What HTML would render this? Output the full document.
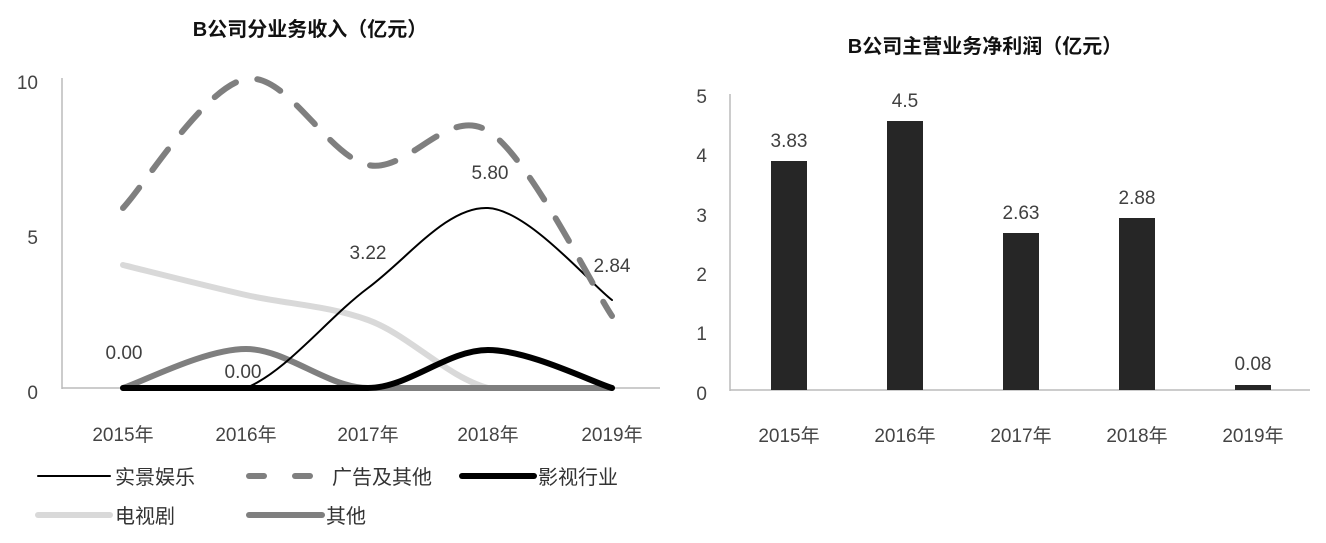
<!DOCTYPE html>
<html><head><meta charset="utf-8"><style>
body{margin:0;background:#fff;}
svg text{font-family:"Liberation Sans","Noto Sans CJK SC",sans-serif;}
</style></head><body>
<svg width="1326" height="538" viewBox="0 0 1326 538" xmlns="http://www.w3.org/2000/svg">
<rect width="1326" height="538" fill="#fff"/>
<!-- Left chart -->
<text x="310" y="36" font-size="20" font-weight="bold" text-anchor="middle" fill="#111">B公司分业务收入（亿元）</text>
<line x1="62" y1="78" x2="62" y2="389" stroke="#bbb" stroke-width="1.5"/>
<line x1="62" y1="388" x2="660" y2="388" stroke="#bbb" stroke-width="1.5"/>
<g font-size="19" fill="#444" text-anchor="end">
<text x="38" y="89">10</text><text x="38" y="244">5</text><text x="38" y="399">0</text>
</g>
<g font-size="19" fill="#444" text-anchor="middle">
<text x="123" y="441">2015年</text><text x="246" y="441">2016年</text><text x="368" y="441">2017年</text><text x="488" y="441">2018年</text><text x="612" y="441">2019年</text>
</g>
<g fill="none" stroke-linecap="round">
<path d="M123,265 C143.5,270 205.2,285.8 246,295 C286.8,304.2 327.7,305.5 368,320 C408.3,334.5 447.3,377.3 488,388 L612,388" stroke="#d9d9d9" stroke-width="6"/>
<path d="M123,388 C143.5,381.5 205.2,349 246,349 C286.8,349 327.7,388 368,388 L612,388" stroke="#7f7f7f" stroke-width="6"/>
<path d="M123,388 L368,388 C408.3,388 447.3,350 488,350 C528.7,350 591.3,381.7 612,388" stroke="#000" stroke-width="6"/>
<path d="M123,388 L246,388 C286.8,371.3 327.7,318 368,288 C408.3,258 447.3,206 488,208 C528.7,210 591.3,284.7 612,300" stroke="#000" stroke-width="2"/>
<path d="M123,208 C143.5,186.5 205.2,86.2 246,79 C286.8,71.8 327.7,156.3 368,165 C408.3,173.7 447.3,105.8 488,131 C528.7,156.2 591.3,285.2 612,316" stroke="#7f7f7f" stroke-width="6" stroke-dasharray="26,22"/>
</g>
<g font-size="19" fill="#404040" text-anchor="middle">
<text x="124" y="359">0.00</text><text x="243" y="378">0.00</text><text x="368" y="259">3.22</text><text x="490" y="179">5.80</text><text x="612" y="272">2.84</text>
</g>
<!-- legend -->
<g stroke-linecap="round">
<line x1="38" y1="476" x2="110" y2="476" stroke="#000" stroke-width="2"/>
<line x1="249" y1="476" x2="264" y2="476" stroke="#7f7f7f" stroke-width="6"/>
<line x1="295" y1="476" x2="310" y2="476" stroke="#7f7f7f" stroke-width="6"/>
<line x1="462" y1="476" x2="534" y2="476" stroke="#000" stroke-width="6"/>
<line x1="38" y1="515" x2="110" y2="515" stroke="#d9d9d9" stroke-width="6"/>
<line x1="249" y1="515" x2="322" y2="515" stroke="#7f7f7f" stroke-width="6"/>
</g>
<g font-size="20" fill="#333">
<text x="115" y="484">实景娱乐</text><text x="332" y="484">广告及其他</text><text x="538" y="484">影视行业</text>
<text x="115" y="523">电视剧</text><text x="326" y="523">其他</text>
</g>
<!-- Right chart -->
<text x="985" y="53" font-size="20" font-weight="bold" text-anchor="middle" fill="#111">B公司主营业务净利润（亿元）</text>
<line x1="730" y1="94" x2="730" y2="391" stroke="#bbb" stroke-width="1.5"/>
<line x1="730" y1="390" x2="1310" y2="390" stroke="#bbb" stroke-width="1.5"/>
<g font-size="19" fill="#444" text-anchor="end">
<text x="707" y="103">5</text><text x="707" y="162">4</text><text x="707" y="222">3</text><text x="707" y="281">2</text><text x="707" y="340">1</text><text x="707" y="400">0</text>
</g>
<g fill="#262626">
<rect x="771" y="161" width="36" height="229"/>
<rect x="887" y="121" width="36" height="269"/>
<rect x="1003" y="233" width="36" height="157"/>
<rect x="1119" y="218" width="36" height="172"/>
<rect x="1235" y="385" width="36" height="5"/>
</g>
<g font-size="19" fill="#404040" text-anchor="middle">
<text x="789" y="147">3.83</text><text x="905" y="107">4.5</text><text x="1021" y="219">2.63</text><text x="1137" y="204">2.88</text><text x="1253" y="370">0.08</text>
</g>
<g font-size="19" fill="#444" text-anchor="middle">
<text x="789" y="442">2015年</text><text x="905" y="442">2016年</text><text x="1021" y="442">2017年</text><text x="1137" y="442">2018年</text><text x="1253" y="442">2019年</text>
</g>
</svg>
</body></html>
